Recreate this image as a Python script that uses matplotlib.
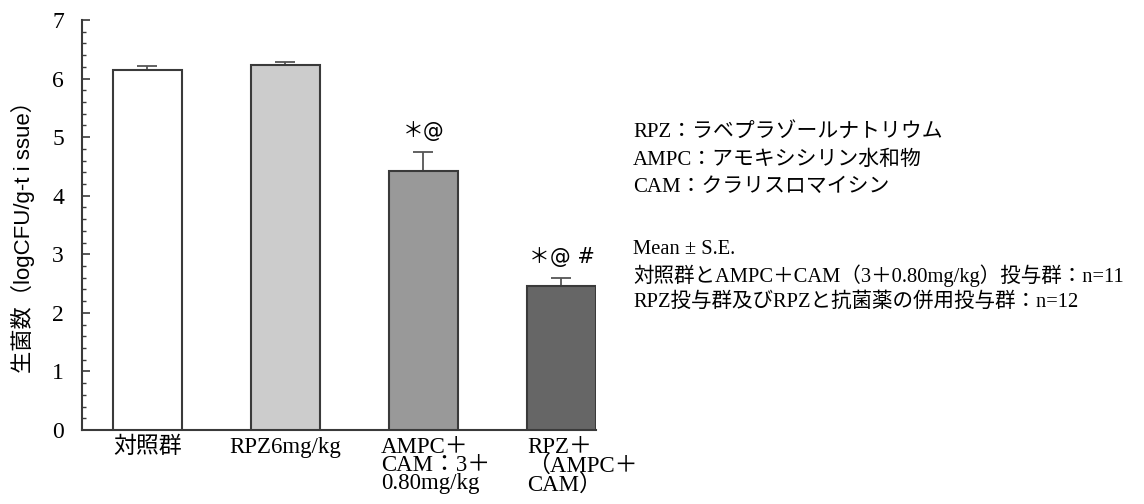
import matplotlib
matplotlib.use("Agg")
import matplotlib.pyplot as plt
from matplotlib.ticker import MultipleLocator
from matplotlib.transforms import ScaledTranslation
import numpy as np

# 群ごとの平均値と標準誤差
groups = ["対照群", "RPZ6mg/kg", "AMPC＋\nCAM：3＋\n0.80mg/kg", "RPZ＋\n（AMPC＋\nCAM）"]
means = [6.15, 6.24, 4.43, 2.46]
se = [0.06, 0.04, 0.32, 0.14]
marks = ["", "", "＊@", "＊@ #"]
colors = ["#ffffff", "#cccccc", "#999999", "#666666"]
label_shift = [0, 0, 12, 21]  # px, multi-line labels sit slightly right

notes1 = ["RPZ：ラベプラゾールナトリウム",
          "AMPC：アモキシシリン水和物",
          "CAM：クラリスロマイシン"]
notes2 = ["Mean ± S.E.",
          "対照群とAMPC＋CAM（3＋0.80mg/kg）投与群：n=11",
          "RPZ投与群及びRPZと抗菌薬の併用投与群：n=12"]

serif = ["Liberation Serif", "Noto Sans CJK JP"]
sans = ["Liberation Sans", "Noto Sans CJK JP"]
edge = "#3a3a3a"

fig = plt.figure(figsize=(11.44, 5.04), dpi=100)
W, H = 1144, 504
ax = fig.add_axes([82 / W, 1 - 430 / H, (596 - 82) / W, (430 - 20) / H])

x = np.arange(len(groups))
ax.bar(x, means, width=0.5, color=colors, edgecolor=edge, linewidth=1.5, zorder=3)
ax.errorbar(x, means, yerr=[np.zeros(len(se)), se], fmt="none", ecolor="#555555",
            elinewidth=1.3, capsize=7, capthick=1.3, zorder=2)

for xi, m, s, t in zip(x, means, se, marks):
    if t:
        ax.annotate(t, (xi, m + s), xytext=(0, 15), textcoords="offset points",
                    ha="center", va="center", fontsize=15,
                    family=["DejaVu Sans", "Noto Sans CJK JP"])

ax.set_xlim(-0.474, 3.25)
ax.set_ylim(0, 7)
ax.yaxis.set_major_locator(MultipleLocator(1))
ax.yaxis.set_minor_locator(MultipleLocator(0.2))
ax.tick_params(axis="y", which="major", direction="in", length=6, width=1.2,
               color=edge, pad=13, labelsize=17)
ax.tick_params(axis="y", which="minor", direction="in", length=3, width=1.0, color=edge)
ax.tick_params(axis="x", length=0, pad=5)
ax.set_xticks(x)
ax.set_xticklabels(groups, fontsize=16.5, linespacing=0.82, multialignment="left",
                   family=serif)
for lab, dx in zip(ax.get_xticklabels(), label_shift):
    lab.set_transform(lab.get_transform() + ScaledTranslation(dx / 100, 0, fig.dpi_scale_trans))
for lab in ax.get_yticklabels():
    lab.set_family(serif)

for side in ["top", "right"]:
    ax.spines[side].set_visible(False)
for side in ["left", "bottom"]:
    ax.spines[side].set_color(edge)
    ax.spines[side].set_linewidth(1.5)

fig.text(23 / W, 1 - 232 / H, "生菌数（logCFU/g-t i ssue）", rotation=90,
         ha="center", va="center", fontsize=16, family=sans)

for i, line in enumerate(notes1):
    fig.text(633 / W, 1 - (133 + 27 * i) / H, line, ha="left", va="center",
             fontsize=15, family=serif)
for i, line in enumerate(notes2):
    fig.text(633 / W, 1 - (250 + 26 * i) / H, line, ha="left", va="center",
             fontsize=14.8, family=serif)

fig.savefig("out.png", dpi=100)
